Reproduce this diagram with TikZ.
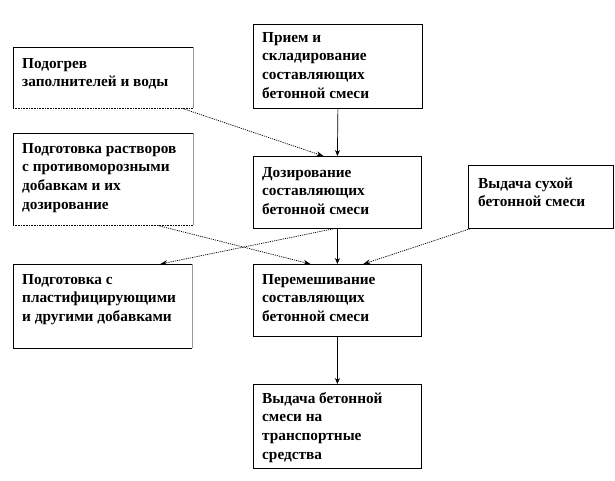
\documentclass[tikz,border=0pt]{standalone}
\usepackage{fontspec}
\setmainfont{Liberation Serif}
\usetikzlibrary{arrows.meta,positioning}
\newcommand{\firstline}{\rule{0pt}{12pt}}
\tikzset{
  box/.style={draw=black, line width=0.8pt, rectangle, inner sep=0pt, anchor=north west},
  openbox/.style={rectangle, inner sep=0pt, anchor=north west},
  edge/.style={draw=black, line width=0.8pt},
  greyedge/.style={draw=black!40, line width=1pt},
  dotedge/.style={draw=black, line width=0.8pt, dash pattern=on 0.8pt off 0.8pt},
  txt/.style={anchor=north west, inner sep=0pt, align=left,
    font=\fontsize{15.3}{18.7}\selectfont\bfseries},
  solidarrow/.style={draw=black, line width=0.7pt, -{Stealth[length=6pt,width=5pt]}},
  dotarrow/.style={draw=black, line width=0.7pt, dash pattern=on 1.2pt off 1pt, -{Stealth[length=7pt,width=5pt]}},
}
\begin{document}
\begin{tikzpicture}[x=1pt,y=-1pt]
\useasboundingbox (0,0) rectangle (615,480);
% boxes
\node[openbox, minimum width=180pt, minimum height=61pt] (pod) at (13,47) {};
\node[box, minimum width=169pt, minimum height=84pt] (pri) at (253,24) {};
\node[openbox, minimum width=180pt, minimum height=92pt] (ras) at (13,133) {};
\node[box, minimum width=168pt, minimum height=72pt] (doz) at (253,156) {};
\node[box, minimum width=145pt, minimum height=63pt] (suh) at (468,165) {};
\node[openbox, minimum width=179pt, minimum height=84pt] (pla) at (13,264) {};
\node[box, minimum width=168pt, minimum height=72pt] (per) at (253,264) {};
\node[box, minimum width=168pt, minimum height=84pt] (vyd) at (253,384) {};
% left boxes: grey right edge, dotted lower edge
\draw[edge] (pod.north east) -- (pod.north west) -- (pod.south west);
\draw[greyedge] (pod.north east) -- (pod.south east);
\draw[dotedge] (pod.south west) -- (pod.south east);
\draw[edge] (ras.north east) -- (ras.north west) -- (ras.south west);
\draw[greyedge] (ras.north east) -- (ras.south east);
\draw[dotedge] (ras.south west) -- (ras.south east);
\draw[edge] (pla.north east) -- (pla.north west) -- (pla.south west) -- (pla.south east);
\draw[greyedge] (pla.north east) -- (pla.south east);
% texts (first baseline = box top + offset)
\node[txt] (podt) at ([shift={(9,9)}]pod.north west) {\firstline Подогрев\\заполнителей и воды};
\node[txt] (prit) at ([shift={(9,6)}]pri.north west) {\firstline Прием и\\складирование\\составляющих\\бетонной смеси};
\node[txt] (rast) at ([shift={(9,8)}]ras.north west) {\firstline Подготовка растворов\\с противоморозными\\добавкам и их\\дозирование};
\node[txt] (dozt) at ([shift={(9,9)}]doz.north west) {\firstline Дозирование\\составляющих\\бетонной смеси};
\node[txt] (suht) at ([shift={(10,11)}]suh.north west) {\firstline Выдача сухой\\бетонной смеси};
\node[txt] (plat) at ([shift={(9,8)}]pla.north west) {\firstline Подготовка с\\пластифицирующими\\и другими добавками};
\node[txt] (pert) at ([shift={(9,8)}]per.north west) {\firstline Перемешивание\\составляющих\\бетонной смеси};
\node[txt] (vydt) at ([shift={(9,7)}]vyd.north west) {\firstline Выдача бетонной\\смеси на\\транспортные\\средства};
% solid arrows
\draw[solidarrow] (pri.south) -- (doz.north);
\draw[solidarrow] (doz.south) -- (per.north);
\draw[solidarrow] (per.south) -- (vyd.north);
% dotted arrows
\draw[dotarrow] ([xshift=-11pt]pod.south east) -- ([xshift=-14pt]doz.north);
\draw[dotarrow] ([xshift=-36pt]ras.south east) -- ([xshift=-27pt]per.north);
\draw[dotarrow] ([xshift=-4pt]doz.south) -- ([xshift=-32pt]pla.north east);
\draw[dotarrow] ([xshift=2pt]suh.south west) -- ([xshift=26pt]per.north);
\end{tikzpicture}
\end{document}
